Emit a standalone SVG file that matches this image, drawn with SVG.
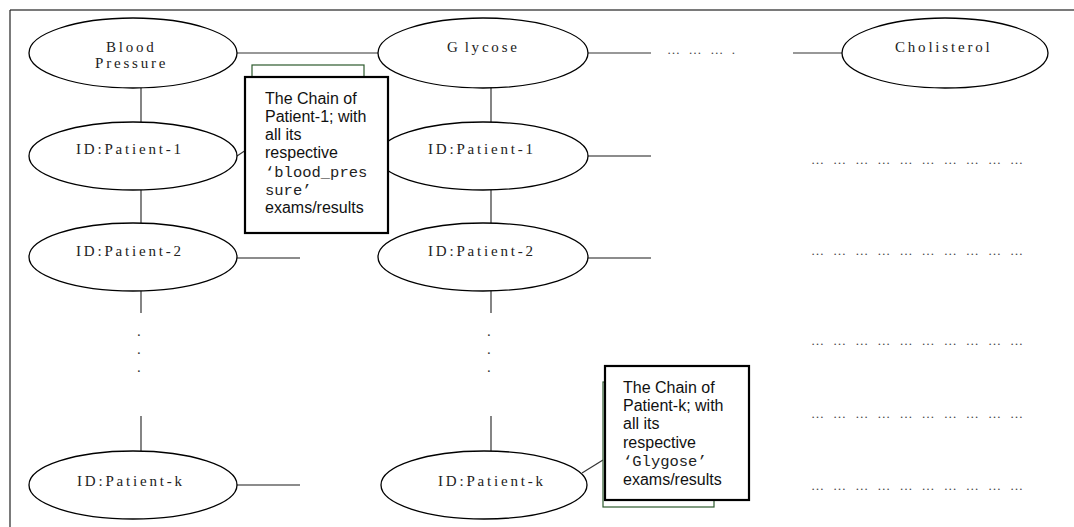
<svg xmlns="http://www.w3.org/2000/svg" width="1074" height="527" viewBox="0 0 1074 527">
<style>
.bg{fill:#fff}
.frameTop{stroke:#7a7a7a;stroke-width:2;fill:none}
.frameLeft{stroke:#222;stroke-width:1.2;fill:none}
.node{fill:#fff;stroke:#000;stroke-width:1.3}
.lbl{font-family:"Liberation Serif","Times New Roman",serif;font-size:15px;fill:#222;letter-spacing:2.8px}
.edge{stroke:#333;stroke-width:1.2;fill:none}
.stub{stroke:#666;stroke-width:1.4;fill:none}
.dots{font-family:"Liberation Serif","Times New Roman",serif;font-size:13px;fill:#444}
.vdot{font-family:"Liberation Serif","Times New Roman",serif;font-size:15px;fill:#333}
.shadow{fill:#fff;stroke:#2d5a2d;stroke-width:1.2}
.box{fill:#fff;stroke:#000;stroke-width:2.2}
.ct{font-family:"Liberation Sans",Arial,sans-serif;font-size:16px;fill:#111}
.mono{font-family:"Liberation Mono","Courier New",monospace;font-size:15.5px;fill:#222}
</style>
<rect class="bg" x="0" y="0" width="1074" height="527"/>
<g id="frame">
<line class="frameTop" x1="10" y1="10" x2="1074" y2="10"/>
<line class="frameLeft" x1="10" y1="10" x2="10" y2="527"/>
</g>
<g id="connectors">
<line class="edge" x1="237" y1="53" x2="378" y2="53"/>
<line class="edge" x1="588" y1="53" x2="651" y2="53"/>
<line class="edge" x1="793" y1="53" x2="842" y2="53"/>
<line class="edge" x1="141" y1="88" x2="141" y2="122"/>
<line class="edge" x1="141" y1="190" x2="141" y2="223"/>
<line class="edge" x1="141" y1="291" x2="141" y2="313"/>
<line class="edge" x1="141" y1="416" x2="141" y2="451"/>
<line class="edge" x1="491" y1="87" x2="491" y2="122"/>
<line class="edge" x1="491" y1="190" x2="491" y2="223"/>
<line class="edge" x1="491" y1="291" x2="491" y2="313"/>
<line class="edge" x1="491" y1="416" x2="491" y2="451"/>
<line class="stub" x1="237" y1="258" x2="300" y2="258"/>
<line class="stub" x1="237" y1="485" x2="300" y2="485"/>
<line class="stub" x1="588" y1="156" x2="651" y2="156"/>
<line class="stub" x1="588" y1="258" x2="651" y2="258"/>
<line class="edge" x1="237" y1="156" x2="246" y2="150"/>
<line class="edge" x1="582" y1="473" x2="603" y2="460"/>
</g>
<g id="node-blood-pressure">
<ellipse class="node" cx="133" cy="53" rx="104" ry="35"/>
<text class="lbl" x="106" y="52">Blood</text>
<text class="lbl" x="95" y="68">Pressure</text>
</g>
<g id="node-glycose">
<ellipse class="node" cx="483" cy="53" rx="105" ry="35"/>
<text class="lbl" x="447" y="52" letter-spacing="3">G<tspan dx="4">lycose</tspan></text>
</g>
<g id="node-ellipsis-top">
<text class="dots" x="667" y="54" textLength="68" lengthAdjust="spacing">… … … .</text>
</g>
<g id="node-cholisterol">
<ellipse class="node" cx="945" cy="53" rx="103" ry="35"/>
<text class="lbl" x="895" y="52">Cholisterol</text>
</g>
<g id="node-bp-patient-1">
<ellipse class="node" cx="133" cy="156" rx="104" ry="34"/>
<text class="lbl" x="76" y="154">ID:Patient-1</text>
</g>
<g id="node-bp-patient-2">
<ellipse class="node" cx="133" cy="257" rx="104" ry="34"/>
<text class="lbl" x="76" y="256">ID:Patient-2</text>
</g>
<g id="node-bp-dots">
<text class="vdot" x="137" y="336">.</text>
<text class="vdot" x="137" y="354">.</text>
<text class="vdot" x="137" y="372">.</text>
</g>
<g id="node-bp-patient-k">
<ellipse class="node" cx="133" cy="485" rx="104" ry="34"/>
<text class="lbl" x="77" y="486">ID:Patient-k</text>
</g>
<g id="node-gl-patient-1">
<ellipse class="node" cx="483" cy="156" rx="105" ry="34"/>
<text class="lbl" x="428" y="154">ID:Patient-1</text>
</g>
<g id="node-gl-patient-2">
<ellipse class="node" cx="483" cy="257" rx="105" ry="34"/>
<text class="lbl" x="428" y="256">ID:Patient-2</text>
</g>
<g id="node-gl-dots">
<text class="vdot" x="487" y="336">.</text>
<text class="vdot" x="487" y="354">.</text>
<text class="vdot" x="487" y="372">.</text>
</g>
<g id="node-gl-patient-k">
<ellipse class="node" cx="484" cy="485" rx="103" ry="34"/>
<text class="lbl" x="438" y="486">ID:Patient-k</text>
</g>
<g id="node-right-rows">
<text class="dots" x="811" y="164" textLength="212" lengthAdjust="spacing">… … … … … … … … … …</text>
<text class="dots" x="811" y="255" textLength="212" lengthAdjust="spacing">… … … … … … … … … …</text>
<text class="dots" x="811" y="345" textLength="212" lengthAdjust="spacing">… … … … … … … … … …</text>
<text class="dots" x="811" y="418" textLength="212" lengthAdjust="spacing">… … … … … … … … … …</text>
<text class="dots" x="811" y="490" textLength="212" lengthAdjust="spacing">… … … … … … … … … …</text>
</g>
<g id="callout-patient-1">
<rect class="shadow" x="252" y="65" width="112" height="100"/>
<rect class="box" x="245" y="77" width="143" height="156"/>
<text class="ct" x="265" y="104">The Chain of</text>
<text class="ct" x="265" y="122">Patient-1; with</text>
<text class="ct" x="265" y="140">all its</text>
<text class="ct" x="265" y="158">respective</text>
<text class="mono" x="265" y="177">‘blood_pres</text>
<text class="mono" x="265" y="195">sure’</text>
<text class="ct" x="265" y="213">exams/results</text>
</g>
<g id="callout-patient-k">
<rect class="shadow" x="603" y="382" width="111" height="125"/>
<rect class="box" x="605" y="366" width="144" height="134"/>
<text class="ct" x="623" y="393">The Chain of</text>
<text class="ct" x="623" y="411">Patient-k; with</text>
<text class="ct" x="623" y="429">all its</text>
<text class="ct" x="623" y="448">respective</text>
<text class="mono" x="623" y="466">‘Glygose’</text>
<text class="ct" x="623" y="485">exams/results</text>
</g>
</svg>
